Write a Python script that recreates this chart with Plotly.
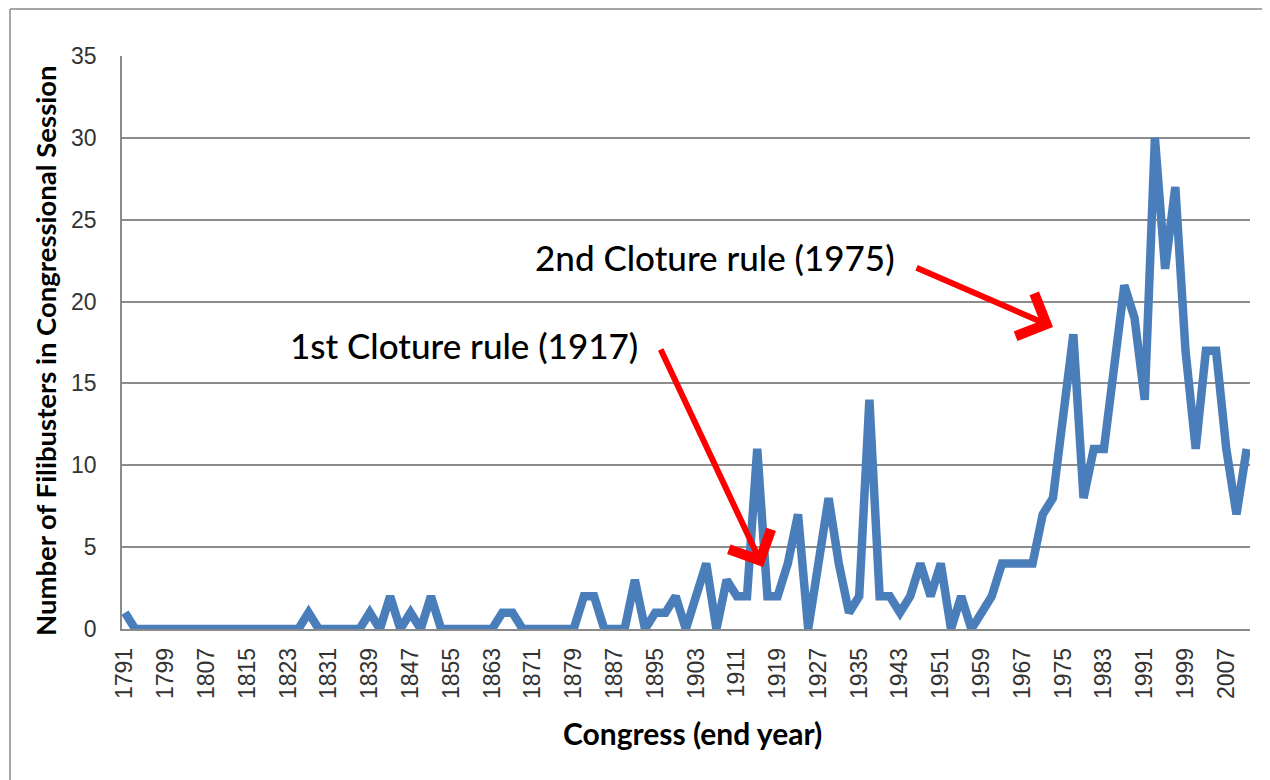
import plotly.graph_objects as go

# Congress end years (1st to 111th Congress)
years = [1791, 1793, 1795, 1797, 1799, 1801, 1803, 1805, 1807, 1809,
         1811, 1813, 1815, 1817, 1819, 1821, 1823, 1825, 1827, 1829,
         1831, 1833, 1835, 1837, 1839, 1841, 1843, 1845, 1847, 1849,
         1851, 1853, 1855, 1857, 1859, 1861, 1863, 1865, 1867, 1869,
         1871, 1873, 1875, 1877, 1879, 1881, 1883, 1885, 1887, 1889,
         1891, 1893, 1895, 1897, 1899, 1901, 1903, 1905, 1907, 1909,
         1911, 1913, 1915, 1917, 1919, 1921, 1923, 1925, 1927, 1929,
         1931, 1933, 1935, 1937, 1939, 1941, 1943, 1945, 1947, 1949,
         1951, 1953, 1955, 1957, 1959, 1961, 1963, 1965, 1967, 1969,
         1971, 1973, 1975, 1977, 1979, 1981, 1983, 1985, 1987, 1989,
         1991, 1993, 1995, 1997, 1999, 2001, 2003, 2005, 2007, 2009,
         2011]

filibusters = [1, 0, 0, 0, 0, 0, 0, 0, 0, 0,
               0, 0, 0, 0, 0, 0, 0, 0, 1, 0,
               0, 0, 0, 0, 1, 0, 2, 0, 1, 0,
               2, 0, 0, 0, 0, 0, 0, 1, 1, 0,
               0, 0, 0, 0, 0, 2, 2, 0, 0, 0,
               3, 0, 1, 1, 2, 0, 2, 4, 0, 3,
               2, 2, 11, 2, 2, 4, 7, 0, 4, 8,
               4, 1, 2, 14, 2, 2, 1, 2, 4, 2,
               4, 0, 2, 0, 1, 2, 4, 4, 4, 4,
               7, 8, 13, 18, 8, 11, 11, 16, 21, 19,
               14, 30, 22, 27, 17, 11, 17, 17, 11, 7,
               11]

tick_years = [1791, 1799, 1807, 1815, 1823, 1831, 1839, 1847, 1855, 1863,
              1871, 1879, 1887, 1895, 1903, 1911, 1919, 1927, 1935, 1943,
              1951, 1959, 1967, 1975, 1983, 1991, 1999, 2007]
tick_labels = [str(y) for y in tick_years]

y_ticks = [0, 5, 10, 15, 20, 25, 30, 35]

notes = ["1st Cloture rule (1917)", "2nd Cloture rule (1975)"]

OFF = 8  # page body margin in the browser
W, H = 1270 - OFF, 780 - OFF
L, T = 122 - OFF, 56 - OFF
R = W - (1250 - OFF)
B = H - (629 - OFF)
pw, ph = W - L - R, H - T - B


def px(xp):
    return (xp - OFF - L) / pw


def py(yp):
    return (H - B - (yp - OFF)) / ph


fig = go.Figure()
fig.add_trace(go.Scatter(
    x=years, y=filibusters, mode="lines",
    line=dict(color="#4a7ebb", width=8.5),
    hoverinfo="x+y", showlegend=False,
))

tick_font = dict(family="Liberation Sans, Arial, sans-serif", size=23, color="#333333")

fig.update_layout(
    width=W, height=H,
    margin=dict(l=L, r=R, t=T, b=B),
    paper_bgcolor="white", plot_bgcolor="white",
    xaxis=dict(
        range=[1790.41, 2011.65],
        tickmode="array", tickvals=tick_years, ticktext=tick_labels,
        tickangle=-90, tickfont=tick_font,
        showgrid=False, zeroline=False,
        showline=True, linecolor="#8a8a8a", linewidth=1.5,
        ticks="", ticklabelstandoff=8,
    ),
    yaxis=dict(
        range=[0, 35],
        tickmode="array", tickvals=y_ticks,
        tickfont=tick_font,
        showgrid=True, gridcolor="#8c8c8c", gridwidth=1.5,
        zeroline=False,
        showline=True, linecolor="#8a8a8a", linewidth=1.5,
        ticks="", ticklabelstandoff=19,
    ),
    showlegend=False,
)

# outer chart frame (left and top edges visible)
fig.add_shape(type="line", xref="paper", yref="paper",
              x0=px(10), x1=px(10), y0=py(9), y1=py(800),
              line=dict(color="#a6a6a6", width=2))
fig.add_shape(type="line", xref="paper", yref="paper",
              x0=px(10), x1=px(1290), y0=py(9), y1=py(9),
              line=dict(color="#a6a6a6", width=2))

# axis titles
fig.add_annotation(xref="paper", yref="paper", x=px(45), y=py(351),
                   text="<b>Number of Filibusters in Congressional Session</b>",
                   textangle=-90, showarrow=False,
                   font=dict(family="Lato, sans-serif", size=27.5, color="#000000"),
                   xanchor="center", yanchor="middle")
fig.add_annotation(xref="paper", yref="paper", x=px(692), y=py(733),
                   text="<b>Congress (end year)</b>",
                   showarrow=False, font=dict(family="Lato, sans-serif", size=30, color="#000000"),
                   xanchor="center", yanchor="middle")

note_font = dict(family="Lato, sans-serif", size=35, color="#000000", weight=500)
fig.add_annotation(xref="paper", yref="paper", x=px(464), y=py(345),
                   text=notes[0], showarrow=False, font=note_font,
                   xanchor="center", yanchor="middle")
fig.add_annotation(xref="paper", yref="paper", x=px(715), y=py(257),
                   text=notes[1], showarrow=False, font=note_font,
                   xanchor="center", yanchor="middle")

# red arrows
fig.add_annotation(xref="paper", yref="paper", x=px(763), y=py(567),
                   ax=660 - 763, ay=348 - 567, axref="pixel", ayref="pixel",
                   text="", showarrow=True, arrowhead=4, arrowsize=1.5,
                   arrowwidth=6, arrowcolor="#ff0000")
fig.add_annotation(xref="paper", yref="paper", x=px(1053), y=py(327),
                   ax=915 - 1053, ay=267 - 327, axref="pixel", ayref="pixel",
                   text="", showarrow=True, arrowhead=4, arrowsize=1.5,
                   arrowwidth=6, arrowcolor="#ff0000")

fig.write_html("out.html")
